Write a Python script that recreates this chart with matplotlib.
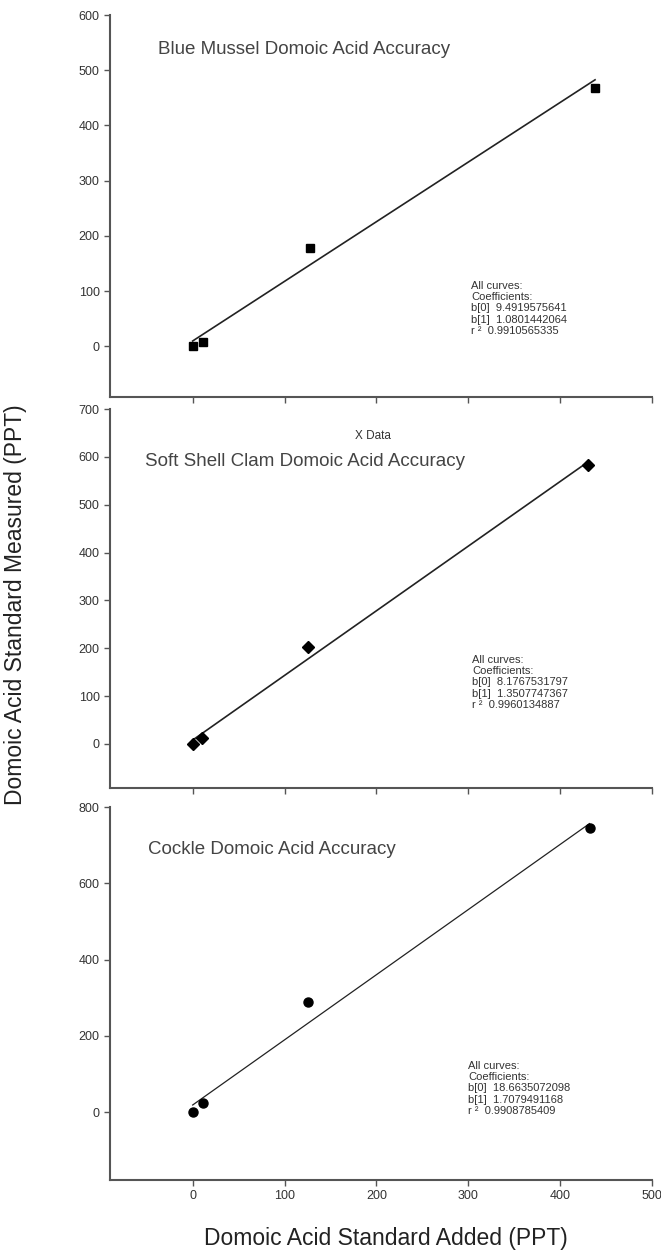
import numpy as np
import matplotlib
matplotlib.use('Agg')
import matplotlib.pyplot as plt

plt.rcParams['font.family'] = ['Liberation Sans', 'DejaVu Sans']

# standard added vs. measured, one row per shellfish species
titles = ["Blue Mussel Domoic Acid Accuracy",
          "Soft Shell Clam Domoic Acid Accuracy",
          "Cockle Domoic Acid Accuracy"]
x_added = [[0, 11, 128, 438],
           [0, 10, 126, 430],
           [0, 11, 126, 432]]
y_measured = [[0, 8, 178, 467],
              [0, 12, 202, 583],
              [0, 24, 289, 745]]
b0 = [9.4919575641, 8.1767531797, 18.6635072098]
b1 = [1.0801442064, 1.3507747367, 1.7079491168]
r2 = [0.9910565335, 0.9960134887, 0.9908785409]
markers = ['s', 'D', 'o']
msizes = [5.5, 6, 6.5]

y_lims = [(-92, 600), (-92, 700), (-178, 800)]
y_steps = [100, 100, 200]
x_ticks = [0, 100, 200, 300, 400, 500]

W, H = 661, 1258
fig = plt.figure(figsize=(W/100, H/100), dpi=100)

# panel boxes in pixels: (top, bottom)
rows = [(15, 397), (409, 788), (807, 1180)]
left, right = 110, 652
title_pos = [(158, 49), (145, 462), (148, 849)]
coef_pos = [(471, 281), (472, 655), (468, 1061)]

spine_col = '#555555'
for i in range(3):
    top, bot = rows[i]
    ax = fig.add_axes([left/W, 1 - bot/H, (right - left)/W, (bot - top)/H])
    x = np.array(x_added[i])
    y = np.array(y_measured[i])
    xf = np.array([x.min(), x.max()])
    ax.plot(xf, b0[i] + b1[i]*xf, color='#222222', lw=1.2 if i < 2 else 0.9)
    ax.plot(x, y, ls='none', marker=markers[i], ms=msizes[i], color='black')

    ax.set_xlim(-90, 500)
    ax.set_ylim(*y_lims[i])
    ax.set_xticks(x_ticks)
    ax.set_yticks(np.arange(0, y_lims[i][1] + 1, y_steps[i]))
    for s in ['top', 'right']:
        ax.spines[s].set_visible(False)
    for s in ['left', 'bottom']:
        ax.spines[s].set_color(spine_col)
        ax.spines[s].set_linewidth(1.5)
    ax.tick_params(colors=spine_col, labelcolor='#333333', length=4, width=1,
                   labelsize=9)
    if i < 2:
        ax.set_xticklabels([])

    tx, ty = title_pos[i]
    fig.text(tx/W, 1 - ty/H, titles[i], fontsize=13.5, color='#444444', va='center')

    cx, cy = coef_pos[i]
    coef = ("All curves:\nCoefficients:\n"
            "b[0]  %.10f\nb[1]  %.10f\nr \u00b2  %.10f" % (b0[i], b1[i], r2[i]))
    fig.text(cx/W, 1 - cy/H, coef, fontsize=8, color='#333333', va='top',
             linespacing=1.15)

fig.text(355/W, 1 - 436/H, "X Data", fontsize=8.5, color='#333333', va='center')

fig.text(16/W, 1 - 605/H, "Domoic Acid Standard Measured (PPT)", fontsize=16.5,
         rotation=90, ha='center', va='center', color='#222222')
fig.text(386/W, 1 - 1238/H, "Domoic Acid Standard Added (PPT)", fontsize=16.5,
         ha='center', va='center', color='#222222')

fig.savefig('out.png', dpi=100)
